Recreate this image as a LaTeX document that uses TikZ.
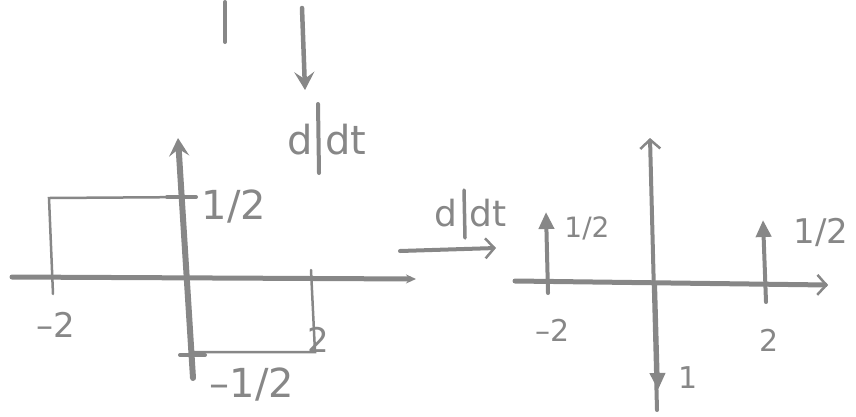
\documentclass[tikz,border=0pt]{standalone}
\usepackage{fontspec}
\setmainfont{DejaVu Sans}
\usetikzlibrary{arrows.meta}
\definecolor{pencil}{RGB}{135,135,135}
\begin{document}
\begin{tikzpicture}[x=1pt,y=-1pt,
  pen/.style={draw=pencil, line width=3pt, line cap=round},
  thickpen/.style={pen, line width=5pt},
  thinpen/.style={pen, line width=2.5pt},
  lbl/.style={text=pencil, inner sep=0pt},
  fs/.style={font=\fontsize{#1}{#1}\selectfont},
  filltip/.style={-{Triangle[length=17pt,width=15pt]}},
  stealthtip/.style={-{Stealth[length=18pt,width=20pt,inset=7pt]}},
  smalltip/.style={-{Stealth[length=10pt,width=9pt]}},
  opentip/.style={-{Straight Barb[length=9pt,width=20pt,line width=2.5pt]}}]
\useasboundingbox (0,0) rectangle (856,416);

% top fragments
\coordinate (tbA) at (225,2);
\coordinate (tbB) at (225,42);
\draw[thinpen, line width=4pt] (tbA) -- (tbB);
\coordinate (taA) at (302,8);
\coordinate (taB) at (305,90);
\draw[pen, line width=4.5pt, stealthtip] (taA) -- (taB);
\node[lbl, fs=40, anchor=east] (ddtA) at (313,140) {d};
\node[lbl, fs=40, anchor=west] (ddtB) at (325,140) {dt};
\coordinate (barA) at (318,104);
\coordinate (barB) at (319,173);
\draw[pen, line width=4pt] (barA) -- (barB);

% left plot
\coordinate (lhA) at (12,277);
\coordinate (lhB) at (416,279);
\draw[thickpen, smalltip] (lhA) -- (lhB);
\coordinate (lvB) at (193,378);
\coordinate (lvT) at (178,138);
\draw[thickpen, line width=6pt, stealthtip] (lvB) -- (lvT);
\coordinate (r1) at (53,294);
\coordinate (r2) at (49,198);
\coordinate (r3) at (195,197);
\draw[thinpen] (r1) -- (r2) -- (r3);
\coordinate (t1a) at (167,197);
\coordinate (t1b) at (196,197);
\draw[pen, line width=4pt] (t1a) -- (t1b);
\coordinate (s1) at (311,270);
\coordinate (s2) at (315,352);
\coordinate (s3) at (192,352);
\draw[thinpen] (s1) -- (s2) -- (s3);
\coordinate (t2a) at (180,355);
\coordinate (t2b) at (205,355);
\draw[pen, line width=4pt] (t2a) -- (t2b);
\node[lbl, fs=40] (lhalf) at (234,207) {1/2};
\node[lbl, fs=34] (lm2) at (56,325) {–2};
\node[lbl, fs=34] (lp2) at (318,340) {2};
\node[lbl, fs=40] (lmhalf) at (252,385) {–1/2};

% middle arrow
\coordinate (mA) at (400,251);
\coordinate (mB) at (496,248);
\draw[thickpen, line width=4pt, opentip] (mA) -- (mB);
\node[lbl, fs=36, anchor=east] (mdA) at (458,213) {d};
\node[lbl, fs=36, anchor=west] (mdB) at (469,213) {dt};
\coordinate (mbA) at (464,190);
\coordinate (mbB) at (465,238);
\draw[pen, line width=3.5pt] (mbA) -- (mbB);

% right plot
\coordinate (rhA) at (515,281);
\coordinate (rhB) at (828,285);
\draw[thickpen, opentip] (rhA) -- (rhB);
\coordinate (rvB) at (657,410);
\coordinate (rvT) at (650,138);
\draw[pen, line width=4pt, opentip] (rvB) -- (rvT);
\coordinate (i1B) at (548,293);
\coordinate (i1T) at (546,212);
\draw[pen, line width=4pt, filltip] (i1B) -- (i1T);
\coordinate (i2B) at (766,302);
\coordinate (i2T) at (763,220);
\draw[pen, line width=4pt, filltip] (i2B) -- (i2T);
\coordinate (i3T) at (655,283);
\coordinate (i3B) at (658,390);
\draw[pen, line width=4pt, filltip] (i3T) -- (i3B);
\node[lbl, fs=28] (rh1) at (587,228) {1/2};
\node[lbl, fs=34] (rh2) at (821,232) {1/2};
\node[lbl, fs=30] (rm2) at (553,330) {–2};
\node[lbl, fs=30] (rp2) at (769,340) {2};
\node[lbl, fs=30] (r1l) at (688,378) {1};
\end{tikzpicture}
\end{document}
